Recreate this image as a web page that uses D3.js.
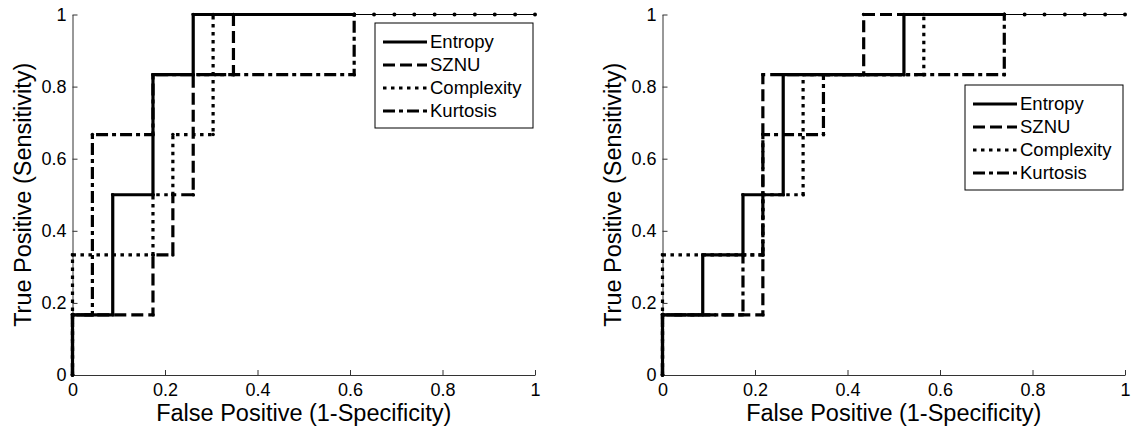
<!DOCTYPE html>
<html>
<head>
<meta charset="utf-8">
<script src="https://cdn.jsdelivr.net/npm/d3@7"></script>
<style>
  body { margin: 0; background: #fff; }
  text { font-family: "Liberation Sans", Arial, sans-serif; fill: #000; }
</style>
</head>
<body>
<svg width="1135" height="431"></svg>
<script>
// ROC curves as [false positive rate, true positive rate] vertices
const leftEntropy = [[0, 0], [0, 0.167], [0.087, 0.167], [0.087, 0.5], [0.174, 0.5], [0.174, 0.833], [0.261, 0.833], [0.261, 1], [0.609, 1]];
const leftSZNU = [[0, 0], [0, 0.167], [0.174, 0.167], [0.174, 0.333], [0.217, 0.333], [0.217, 0.5], [0.261, 0.5], [0.261, 0.833], [0.348, 0.833], [0.348, 1], [0.609, 1]];
const leftComplexity = [[0, 0], [0, 0.333], [0.174, 0.333], [0.174, 0.5], [0.217, 0.5], [0.217, 0.667], [0.304, 0.667], [0.304, 1], [0.609, 1]];
const leftKurtosis = [[0, 0], [0, 0.167], [0.043, 0.167], [0.043, 0.667], [0.174, 0.667], [0.174, 0.833], [0.609, 0.833], [0.609, 1]];
const leftTail = [0.609, 0.652, 0.696, 0.739, 0.783, 0.826, 0.870, 0.913, 0.957, 1];

const rightEntropy = [[0, 0], [0, 0.167], [0.087, 0.167], [0.087, 0.333], [0.174, 0.333], [0.174, 0.5], [0.261, 0.5], [0.261, 0.833], [0.522, 0.833], [0.522, 1], [0.739, 1]];
const rightSZNU = [[0, 0], [0, 0.167], [0.217, 0.167], [0.217, 0.833], [0.435, 0.833], [0.435, 1], [0.739, 1]];
const rightComplexity = [[0, 0], [0, 0.333], [0.217, 0.333], [0.217, 0.5], [0.304, 0.5], [0.304, 0.833], [0.565, 0.833], [0.565, 1], [0.739, 1]];
const rightKurtosis = [[0, 0], [0, 0.167], [0.174, 0.167], [0.174, 0.333], [0.217, 0.333], [0.217, 0.667], [0.348, 0.667], [0.348, 0.833], [0.739, 0.833], [0.739, 1]];
const rightTail = [0.739, 0.783, 0.826, 0.870, 0.913, 0.957, 1];

const seriesNames = ["Entropy", "SZNU", "Complexity", "Kurtosis"];
const xTicks = [0, 0.2, 0.4, 0.6, 0.8, 1];
const xTickLabels = ["0", "0.2", "0.4", "0.6", "0.8", "1"];
const yTicks = [0, 0.2, 0.4, 0.6, 0.8, 1];
const yTickLabels = ["0", "0.2", "0.4", "0.6", "0.8", "1"];

// solid, dashed, dotted, dash-dot
const dashes = ["none", "12,5", "3.5,4.5", "12,4,4,4"];

const svg = d3.select("svg");

const panels = [
    { left: 72.5, series: [leftEntropy, leftSZNU, leftComplexity, leftKurtosis], tail: leftTail, legend: { x: 375, y: 23 } },
    { left: 662.5, series: [rightEntropy, rightSZNU, rightComplexity, rightKurtosis], tail: rightTail, legend: { x: 965, y: 85 } }
];
const plotW = 462.5, plotTop = 14.5, plotBottom = 375;
const legendW = 158, legendH = 105;

panels.forEach(p => {
    const x = d3.scaleLinear().domain([0, 1]).range([p.left, p.left + plotW]);
    const y = d3.scaleLinear().domain([0, 1]).range([plotBottom, plotTop]);

    const xAxis = svg.append("g")
        .attr("transform", `translate(0,${plotBottom})`)
        .call(d3.axisBottom(x).tickValues(xTicks).tickFormat((d, i) => xTickLabels[i])
            .tickSizeInner(-5).tickSizeOuter(0).tickPadding(8));
    const yAxis = svg.append("g")
        .attr("transform", `translate(${p.left},0)`)
        .call(d3.axisLeft(y).tickValues(yTicks).tickFormat((d, i) => yTickLabels[i])
            .tickSizeInner(-5).tickSizeOuter(0).tickPadding(6));
    [xAxis, yAxis].forEach(a => {
        a.selectAll("path, line").attr("stroke", "#333");
        a.selectAll("text").style("font-size", "18px").attr("fill", "#000");
    });

    svg.append("text")
        .attr("x", p.left + plotW / 2)
        .attr("y", 421)
        .attr("text-anchor", "middle")
        .style("font-size", "23.5px")
        .text("False Positive (1-Specificity)");
    svg.append("text")
        .attr("transform", `translate(${p.left - 41.5},${(plotTop + plotBottom) / 2}) rotate(-90)`)
        .attr("text-anchor", "middle")
        .style("font-size", "23.5px")
        .text("True Positive (Sensitivity)");

    const line = d3.line().x(d => x(d[0])).y(d => y(d[1]));

    // thin run along TPR = 1 out to (1, 1), with a marker at every threshold
    svg.append("path")
        .attr("d", line(p.tail.map(v => [v, 1])))
        .attr("fill", "none")
        .attr("stroke", "#000")
        .attr("stroke-width", 1);
    svg.selectAll(null)
        .data(p.tail)
        .join("circle")
        .attr("cx", d => x(d))
        .attr("cy", y(1))
        .attr("r", 2)
        .attr("fill", "#000");

    p.series.forEach((pts, i) => {
        svg.append("path")
            .attr("d", line(pts))
            .attr("fill", "none")
            .attr("stroke", "#000")
            .attr("stroke-width", 3.2)
            .attr("stroke-dasharray", dashes[i]);
        svg.selectAll(null)
            .data(pts)
            .join("circle")
            .attr("cx", d => x(d[0]))
            .attr("cy", d => y(d[1]))
            .attr("r", 1.8)
            .attr("fill", "#000");
    });

    // legend
    const lg = svg.append("g").attr("transform", `translate(${p.legend.x},${p.legend.y})`);
    lg.append("rect")
        .attr("width", legendW)
        .attr("height", legendH)
        .attr("fill", "#fff")
        .attr("stroke", "#000")
        .attr("stroke-width", 1);
    seriesNames.forEach((name, i) => {
        const ly = 19 + i * 23;
        lg.append("line")
            .attr("x1", 8).attr("x2", 52)
            .attr("y1", ly).attr("y2", ly)
            .attr("stroke", "#000")
            .attr("stroke-width", 3.2)
            .attr("stroke-dasharray", dashes[i]);
        lg.append("text")
            .attr("x", 55)
            .attr("y", ly)
            .attr("dy", "0.35em")
            .style("font-size", "18.5px")
            .text(name);
    });
});
</script>
</body>
</html>
